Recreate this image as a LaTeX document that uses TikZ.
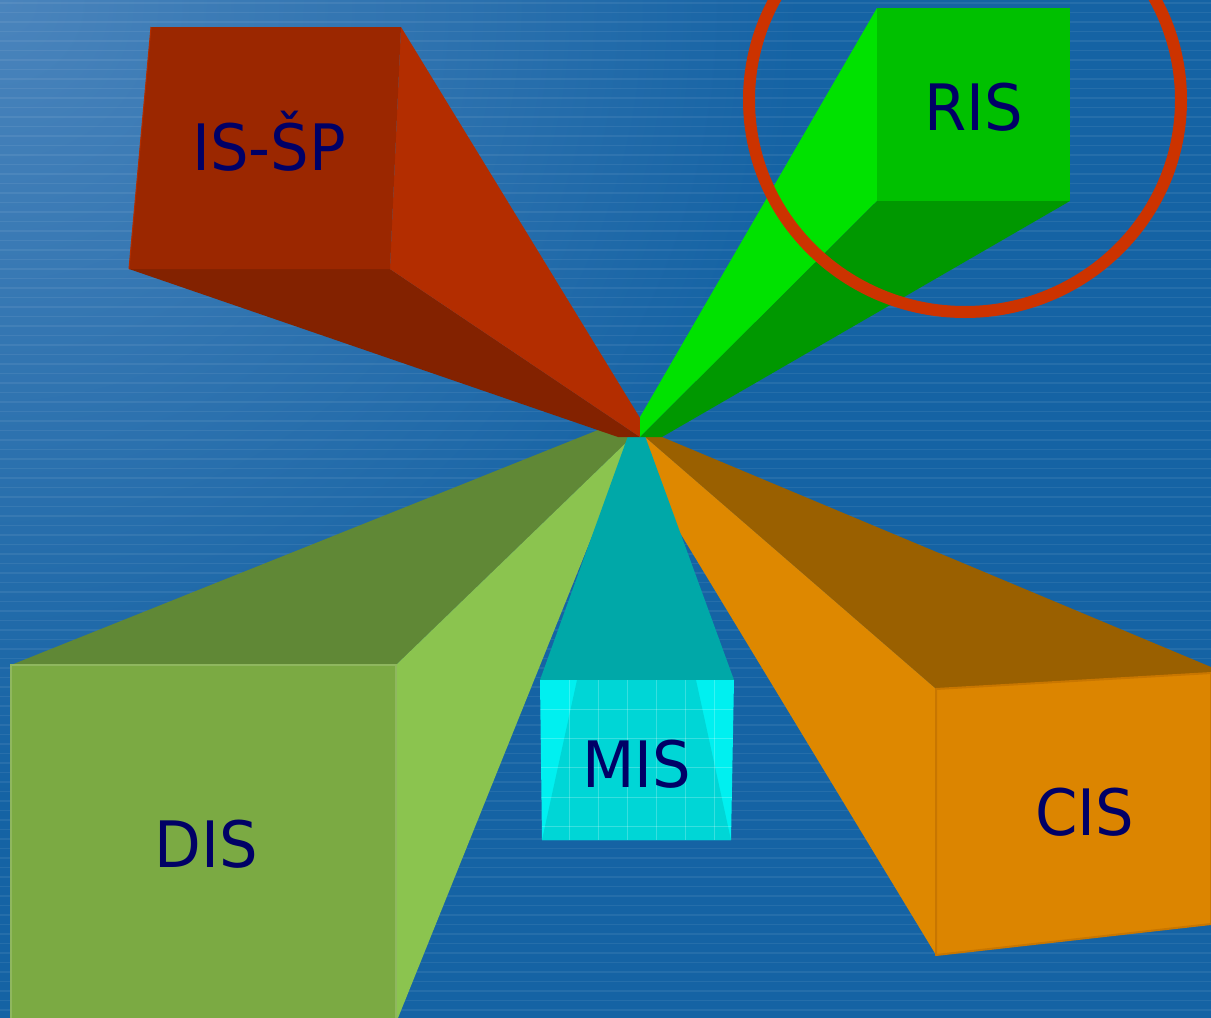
\documentclass[tikz,border=0pt]{standalone}
\usepackage{fontspec}
\setmainfont{DejaVu Sans}[FakeStretch=0.95]
\definecolor{bgblue}{RGB}{21,99,164}
\definecolor{bglight}{RGB}{74,132,188}
\definecolor{isfront}{RGB}{155,39,0}
\definecolor{isside}{RGB}{179,45,0}
\definecolor{isbottom}{RGB}{131,34,0}
\definecolor{risfront}{RGB}{0,192,0}
\definecolor{risside}{RGB}{0,226,0}
\definecolor{risbottom}{RGB}{0,152,0}
\definecolor{ringred}{RGB}{204,51,0}
\definecolor{disfront}{RGB}{123,170,67}
\definecolor{distop}{RGB}{96,136,54}
\definecolor{disside}{RGB}{139,196,79}
\definecolor{misfront}{RGB}{0,240,240}
\definecolor{misinner}{RGB}{0,214,214}
\definecolor{mistop}{RGB}{0,168,168}
\definecolor{cisfront}{RGB}{220,133,0}
\definecolor{cisside}{RGB}{222,136,0}
\definecolor{cistop}{RGB}{154,96,0}
\definecolor{cisedge}{RGB}{200,118,0}
\definecolor{labelnavy}{RGB}{0,0,102}
\tikzset{
  lbl/.style={anchor=base, text=labelnavy, inner sep=0pt, font=\fontsize{64}{64}\selectfont},
  gridline/.style={draw=white, opacity=0.22, line width=0.9pt},
  stripe/.style={draw=white, opacity=0.07, line width=1.3pt}
}
\begin{document}
\begin{tikzpicture}[x=1pt,y=-1pt]
\useasboundingbox (0,0) rectangle (1211,1018);
% background
\fill[bgblue] (0,0) rectangle (1211,1018);
\begin{scope}
  \clip (0,0) rectangle (1211,1018);
  \shade[inner color=bglight, outer color=bgblue] (0,0) circle (800);
  \foreach \i in {0,...,107} {
    \draw[stripe] (0,{\i*9.5+3}) -- (1211,{\i*9.5+3});
  }
\end{scope}
% CIS (orange)
\fill[cistop] (645,437) -- (662,437) -- (1211,667) -- (1211,673) -- (936,689) -- cycle;
\fill[cisside] (936,689) -- (936,955) -- (622,437) -- (645,437) -- cycle;
\fill[cisfront, draw=cisedge, line width=2pt, line join=round] (936,689) -- (1211,673) -- (1211,924) -- (936,955) -- cycle;
% DIS (green)
\fill[distop] (11,665) -- (396,665) -- (632,437) -- (598,430) -- cycle;
\fill[disside] (396,665) -- (632,437) -- (398,1018) -- (396,1018) -- cycle;
\fill[disfront, draw=disfront!85!white, line width=1.5pt] (11,665) -- (396,665) -- (396,1020) -- (11,1020) -- cycle;
% MIS (cyan)
\fill[mistop] (540,680) -- (734,680) -- (645,436) -- (628,436) -- cycle;
\fill[misfront] (540,680) -- (734,680) -- (731,840) -- (542,840) -- cycle;
\fill[misinner] (577,680) -- (696,680) -- (731,840) -- (542,840) -- cycle;
\begin{scope}
  \clip (540,680) -- (734,680) -- (731,840) -- (542,840) -- cycle;
  \foreach \x in {569,598,627,656,685,714} \draw[gridline] (\x,680) -- (\x,840);
  \foreach \y in {709,738,767,797,826} \draw[gridline] (540,\y) -- (734,\y);
\end{scope}
% IS-SP (red)
\fill[isbottom] (129,269) -- (390,269) -- (640,437) -- (618,437) -- cycle;
\fill[isside] (401,27) -- (640,418) -- (640,437) -- (390,269) -- cycle;
\fill[isfront] (151,27) -- (401,27) -- (390,269) -- (129,269) -- cycle;
\draw[isside, line width=1pt] (151,27) -- (129,269);
% RIS (green)
\fill[risside] (877,8) -- (877,201) -- (640,437) -- (640,417) -- cycle;
\fill[risbottom] (877,201) -- (1070,201) -- (662,437) -- (640,437) -- cycle;
\fill[risfront] (877,8) -- (1070,8) -- (1070,201) -- (877,201) -- cycle;
% ring
\draw[ringred, line width=12pt] (965,100) ellipse [x radius=216, y radius=212];
% labels
\node[lbl] (isp) at (269,170) {IS-ŠP};
\node[lbl] (ris) at (974,130) {RIS};
\node[lbl] (mis) at (637,787) {MIS};
\node[lbl] (dis) at (206,867) {DIS};
\node[lbl] (cis) at (1085,835) {CIS};
\end{tikzpicture}
\end{document}
